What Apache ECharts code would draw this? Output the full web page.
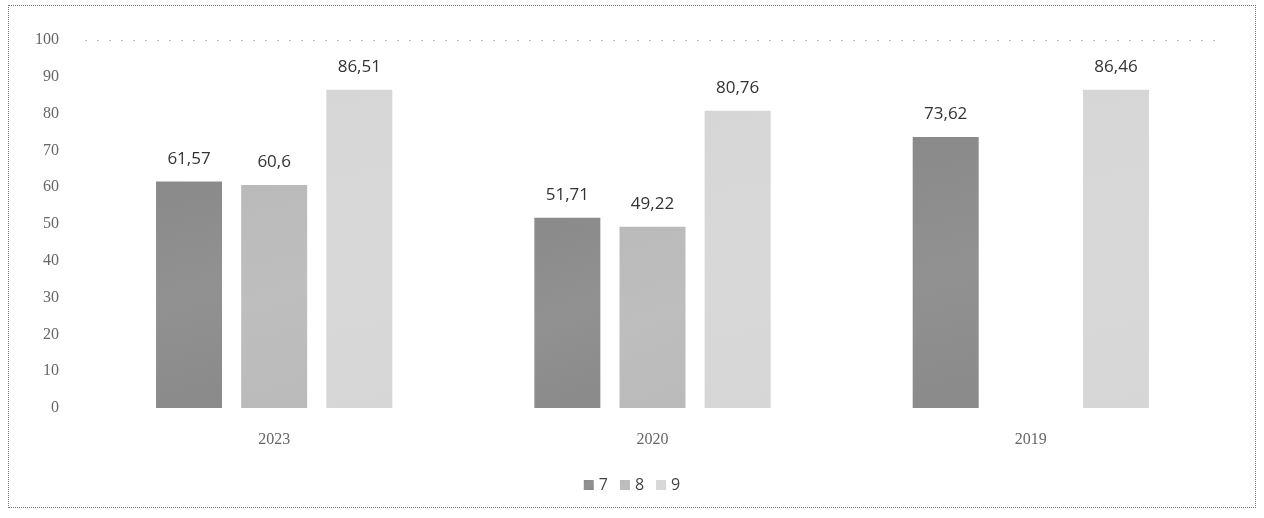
<!DOCTYPE html>
<html>
<head>
<meta charset="utf-8">
<script src="https://cdn.jsdelivr.net/npm/echarts@6/dist/echarts.min.js"></script>
<style>
html,body{margin:0;padding:0;background:#fff;}
#frame{position:absolute;left:8px;top:5px;width:1248px;height:503px;border:1px dotted #777;box-sizing:border-box;}
#chart{position:absolute;left:0;top:0;width:1264px;height:518px;}
</style>
</head>
<body>
<div id="frame"></div>
<div id="chart"></div>
<script>
const categories = ['2023', '2020', '2019'];
const seriesNames = ['7', '8', '9'];
const values7 = [61.57, 51.71, 73.62];
const values8 = [60.6, 49.22, null];
const values9 = [86.51, 80.76, 86.46];
const yTicks = [0, 10, 20, 30, 40, 50, 60, 70, 80, 90, 100];

const colors = ['#8a8a8a', '#bababa', '#d6d6d6'];
const allValues = [values7, values8, values9];

const chart = echarts.init(document.getElementById('chart'));
const labelFmt = p => String(p.value).replace('.', ',');

chart.setOption({
  animation: false,
  backgroundColor: 'transparent',
  grid: {left: 85, right: 44, top: 40, bottom: 110},
  legend: {
    data: seriesNames,
    bottom: 20,
    left: 'center',
    itemWidth: 10,
    itemHeight: 10,
    itemGap: 12,
    icon: 'rect',
    textStyle: {color: '#444', fontSize: 16, fontFamily: 'Open Sans'}
  },
  xAxis: {
    type: 'category',
    data: categories,
    axisLine: {show: false},
    axisTick: {show: false},
    axisLabel: {color: '#666', fontSize: 16, fontFamily: 'Liberation Serif', margin: 24}
  },
  yAxis: {
    type: 'value',
    min: yTicks[0],
    max: yTicks[yTicks.length - 1],
    interval: 10,
    axisLine: {show: false},
    axisTick: {show: false},
    splitLine: {show: false},
    axisLabel: {color: '#666', fontSize: 16, fontFamily: 'Liberation Serif', margin: 26}
  },
  series: seriesNames.map((name, i) => ({
    name: name,
    type: 'bar',
    data: allValues[i],
    barWidth: 66,
    barGap: '29%',
    itemStyle: {
      color: new echarts.graphic.LinearGradient(0, 0, 1, 1, [
        {offset: 0, color: colors[i]},
        {offset: 0.5, color: echarts.color.lift(colors[i], 0.06)},
        {offset: 1, color: colors[i]}
      ])
    },
    label: {
      show: true,
      position: 'top',
      distance: 14,
      color: '#333',
      fontSize: 17,
      fontFamily: 'Open Sans',
      formatter: labelFmt
    },
    markLine: i === 0 ? {
      silent: true,
      symbol: 'none',
      label: {show: false},
      lineStyle: {color: '#bbb', type: [2, 10], width: 1},
      data: [{yAxis: yTicks[yTicks.length - 1]}]
    } : undefined
  }))
});
</script>
</body>
</html>
